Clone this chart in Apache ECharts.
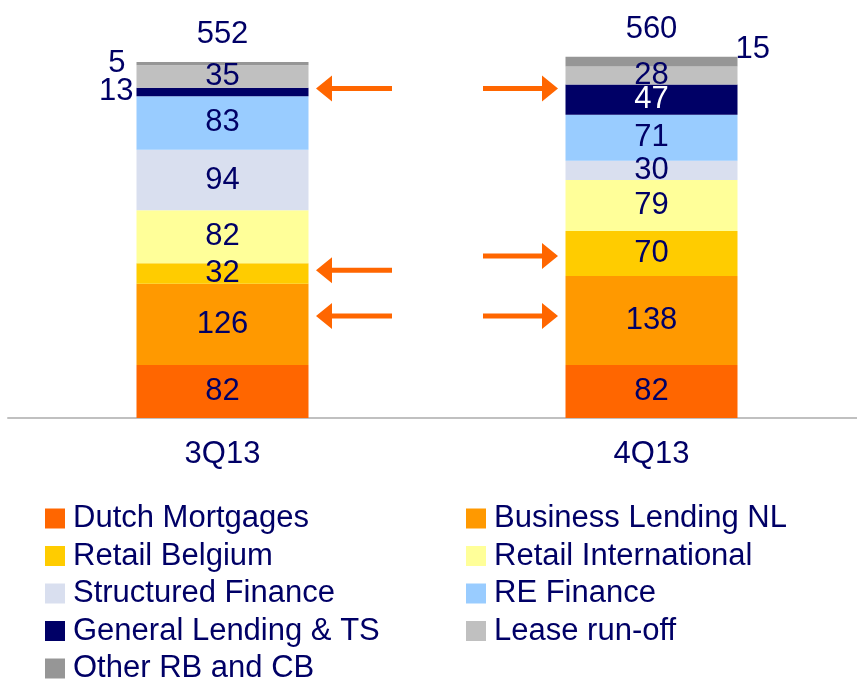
<!DOCTYPE html>
<html>
<head>
<meta charset="utf-8">
<script src="https://cdn.jsdelivr.net/npm/echarts@6/dist/echarts.min.js"></script>
<style>
  html, body { margin: 0; padding: 0; background: #fff; }
  #chart { width: 857px; height: 679px; }
</style>
</head>
<body>
<div id="chart"></div>
<script>
// 季度
const categories = ['3Q13', '4Q13']

// 各业务条线数值（自下而上堆叠）
const dutchMortgages = [82, 82]
const businessLendingNL = [126, 138]
const retailBelgium = [32, 70]
const retailInternational = [82, 79]
const structuredFinance = [94, 30]
const reFinance = [83, 71]
const generalLending = [13, 47]
const leaseRunOff = [35, 28]
const otherRBCB = [5, 15]

// 箭头所在的数值高度（左侧 / 右侧）
const arrowLevelsLeft = [511, 229, 158]
const arrowLevelsRight = [511, 251, 158]

const navy = '#000066'
const font = 'Liberation Sans, Arial, sans-serif'
const fs = 31

const seriesDefs = [
  { name: 'Dutch Mortgages', data: dutchMortgages, color: '#FF6600' },
  { name: 'Business Lending NL', data: businessLendingNL, color: '#FF9900' },
  { name: 'Retail Belgium', data: retailBelgium, color: '#FFCC00' },
  { name: 'Retail International', data: retailInternational, color: '#FFFF99' },
  { name: 'Structured Finance', data: structuredFinance, color: '#D9DFEF' },
  { name: 'RE Finance', data: reFinance, color: '#99CCFF' },
  { name: 'General Lending & TS', data: generalLending, color: '#000066' },
  { name: 'Lease run-off', data: leaseRunOff, color: '#C0C0C0' },
  { name: 'Other RB and CB', data: otherRBCB, color: '#969696' }
]

// 个别小段的标签放在柱子外侧
function labelFor(name, i) {
  if (name === 'Other RB and CB') {
    return i === 0
      ? { position: 'left', distance: 11 }
      : { position: 'right', distance: -2, offset: [0, -12] }
  }
  if (name === 'General Lending & TS') {
    return i === 0 ? { position: 'left', distance: 3 } : { color: '#fff' }
  }
  return {}
}

const totals = categories.map((c, i) => seriesDefs.reduce((s, d) => s + d.data[i], 0))

const chart = echarts.init(document.getElementById('chart'))

const series = seriesDefs.map(d => ({
  name: d.name,
  type: 'bar',
  stack: 'total',
  barWidth: 172,
  itemStyle: { color: d.color },
  label: {
    show: true,
    position: 'inside',
    color: navy,
    fontFamily: font,
    fontSize: fs
  },
  data: d.data.map((v, i) => ({ value: v, label: labelFor(d.name, i) }))
}))

// 合计标签
series.push({
  name: 'Total',
  type: 'scatter',
  symbolSize: 0,
  silent: true,
  itemStyle: { opacity: 1 },
  label: {
    show: true,
    position: 'top',
    distance: 12,
    color: navy,
    fontFamily: font,
    fontSize: fs
  },
  data: totals
})

const legendCommon = {
  orient: 'vertical',
  icon: 'rect',
  padding: 0,
  height: 200,
  itemWidth: 20,
  itemHeight: 20,
  itemGap: 6.5,
  selectedMode: false,
  textStyle: {
    color: navy,
    fontFamily: font,
    fontSize: fs,
    padding: [0, 0, 0, 3]
  }
}

const option = {
  animation: false,
  backgroundColor: '#fff',
  grid: { left: 8, width: 858, top: 31, bottom: 261, outerBoundsMode: 'none' },
  legend: [
    Object.assign({}, legendCommon, {
      left: 45,
      top: 503,
      data: ['Dutch Mortgages', 'Retail Belgium', 'Structured Finance', 'General Lending & TS', 'Other RB and CB']
    }),
    Object.assign({}, legendCommon, {
      left: 466,
      top: 503,
      data: ['Business Lending NL', 'Retail International', 'RE Finance', 'Lease run-off']
    })
  ],
  xAxis: {
    type: 'category',
    data: categories,
    axisLine: { show: true, lineStyle: { color: '#C0C0C0', width: 2 } },
    axisTick: { show: false },
    axisLabel: { color: navy, fontFamily: font, fontSize: fs, margin: 21 }
  },
  yAxis: {
    type: 'value',
    min: 0,
    max: 600,
    show: false,
    splitLine: { show: false }
  },
  series: series
}

chart.setOption(option)

// 橙色箭头
function arrowPoints(y, tipX, baseX, endX) {
  return [[tipX, y], [baseX, y - 13], [baseX, y - 2.5], [endX, y - 2.5],
    [endX, y + 2.5], [baseX, y + 2.5], [baseX, y + 13]]
}
const graphics = []
arrowLevelsLeft.forEach(v => {
  const y = chart.convertToPixel({ yAxisIndex: 0 }, v)
  graphics.push({ type: 'polygon', shape: { points: arrowPoints(y, 316, 332, 392) }, style: { fill: '#FF6600' } })
})
arrowLevelsRight.forEach(v => {
  const y = chart.convertToPixel({ yAxisIndex: 0 }, v)
  graphics.push({ type: 'polygon', shape: { points: arrowPoints(y, 558, 542, 483) }, style: { fill: '#FF6600' } })
})
chart.setOption({ graphic: graphics })
</script>
</body>
</html>
